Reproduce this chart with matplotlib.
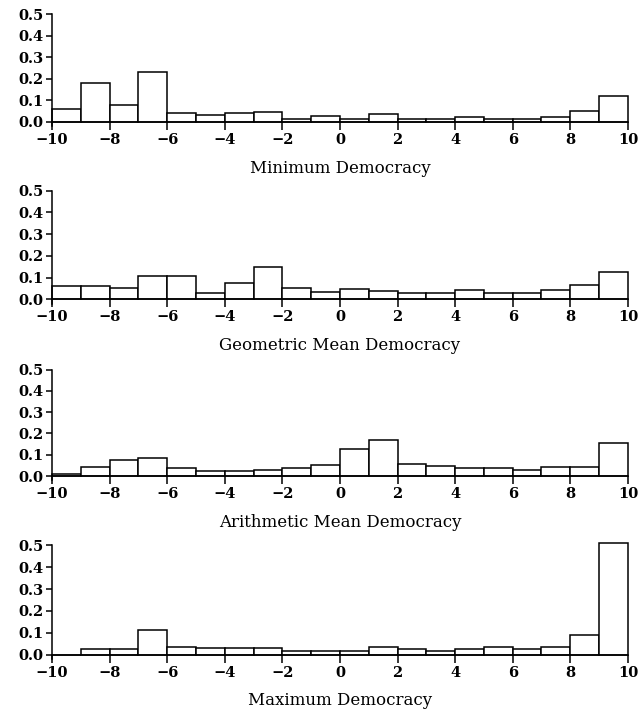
import numpy as np
import matplotlib
matplotlib.use("Agg")
import matplotlib.pyplot as plt

# -------------------
# Data (share of cases per unit-wide bin, -10 .. 10)
# -------------------
bin_left = np.arange(-10, 10)

minimum_dem = [0.06, 0.18, 0.08, 0.23, 0.04, 0.033, 0.042, 0.044, 0.015, 0.027,
               0.015, 0.035, 0.012, 0.012, 0.025, 0.014, 0.014, 0.022, 0.05, 0.12]
geometric_dem = [0.06, 0.06, 0.054, 0.105, 0.105, 0.028, 0.077, 0.15, 0.05, 0.032,
                 0.048, 0.04, 0.028, 0.028, 0.042, 0.03, 0.03, 0.042, 0.065, 0.125]
arithmetic_dem = [0.01, 0.044, 0.075, 0.083, 0.036, 0.025, 0.023, 0.028, 0.039, 0.05,
                  0.128, 0.168, 0.058, 0.048, 0.038, 0.038, 0.028, 0.042, 0.042, 0.155]
maximum_dem = [0.0, 0.024, 0.024, 0.114, 0.036, 0.029, 0.029, 0.029, 0.018, 0.017,
               0.015, 0.035, 0.025, 0.015, 0.025, 0.035, 0.025, 0.035, 0.09, 0.51]

panels = [
    ("Minimum Democracy", minimum_dem),
    ("Geometric Mean Democracy", geometric_dem),
    ("Arithmetic Mean Democracy", arithmetic_dem),
    ("Maximum Democracy", maximum_dem),
]

plt.rcParams['font.family'] = ['DejaVu Serif']

fig = plt.figure(figsize=(6.42, 7.15), dpi=100)

# axes boxes in figure fractions: [left, bottom, width, height]
boxes = [
    [0.081, 0.8234, 0.897, 0.157],
    [0.081, 0.5754, 0.897, 0.158],
    [0.081, 0.3282, 0.897, 0.155],
    [0.081, 0.0783, 0.897, 0.159],
]

for (label, vals), box in zip(panels, boxes):
    ax = fig.add_axes(box)
    ax.bar(bin_left, vals, width=1.0, align='edge', color='white',
           edgecolor='black', linewidth=1.1, clip_on=False)
    ax.set_xlim(-10, 10)
    ax.set_ylim(-0.02, 0.5)
    ax.spines['top'].set_visible(False)
    ax.spines['right'].set_visible(False)
    ax.spines['bottom'].set_position(('data', 0))
    ax.spines['left'].set_linewidth(1.1)
    ax.spines['bottom'].set_linewidth(1.1)
    ax.set_xticks(np.arange(-10, 11, 2))
    ax.set_xticklabels([str(t).replace('-', '\u2212') for t in range(-10, 11, 2)])
    ax.set_yticks(np.arange(0, 0.51, 0.1))
    ax.set_yticklabels(["%.1f" % v for v in np.arange(0, 0.51, 0.1)])
    ax.tick_params(axis='x', direction='out', length=6, width=1.1, pad=2,
                   labelsize=10.5)
    ax.tick_params(axis='y', direction='out', length=4, width=1.1, pad=2,
                   labelsize=10.5)
    for t in ax.get_xticklabels() + ax.get_yticklabels():
        t.set_fontweight('bold')
    ax.set_xlabel(label, fontsize=12, labelpad=9)

fig.savefig("out.png", dpi=100)
